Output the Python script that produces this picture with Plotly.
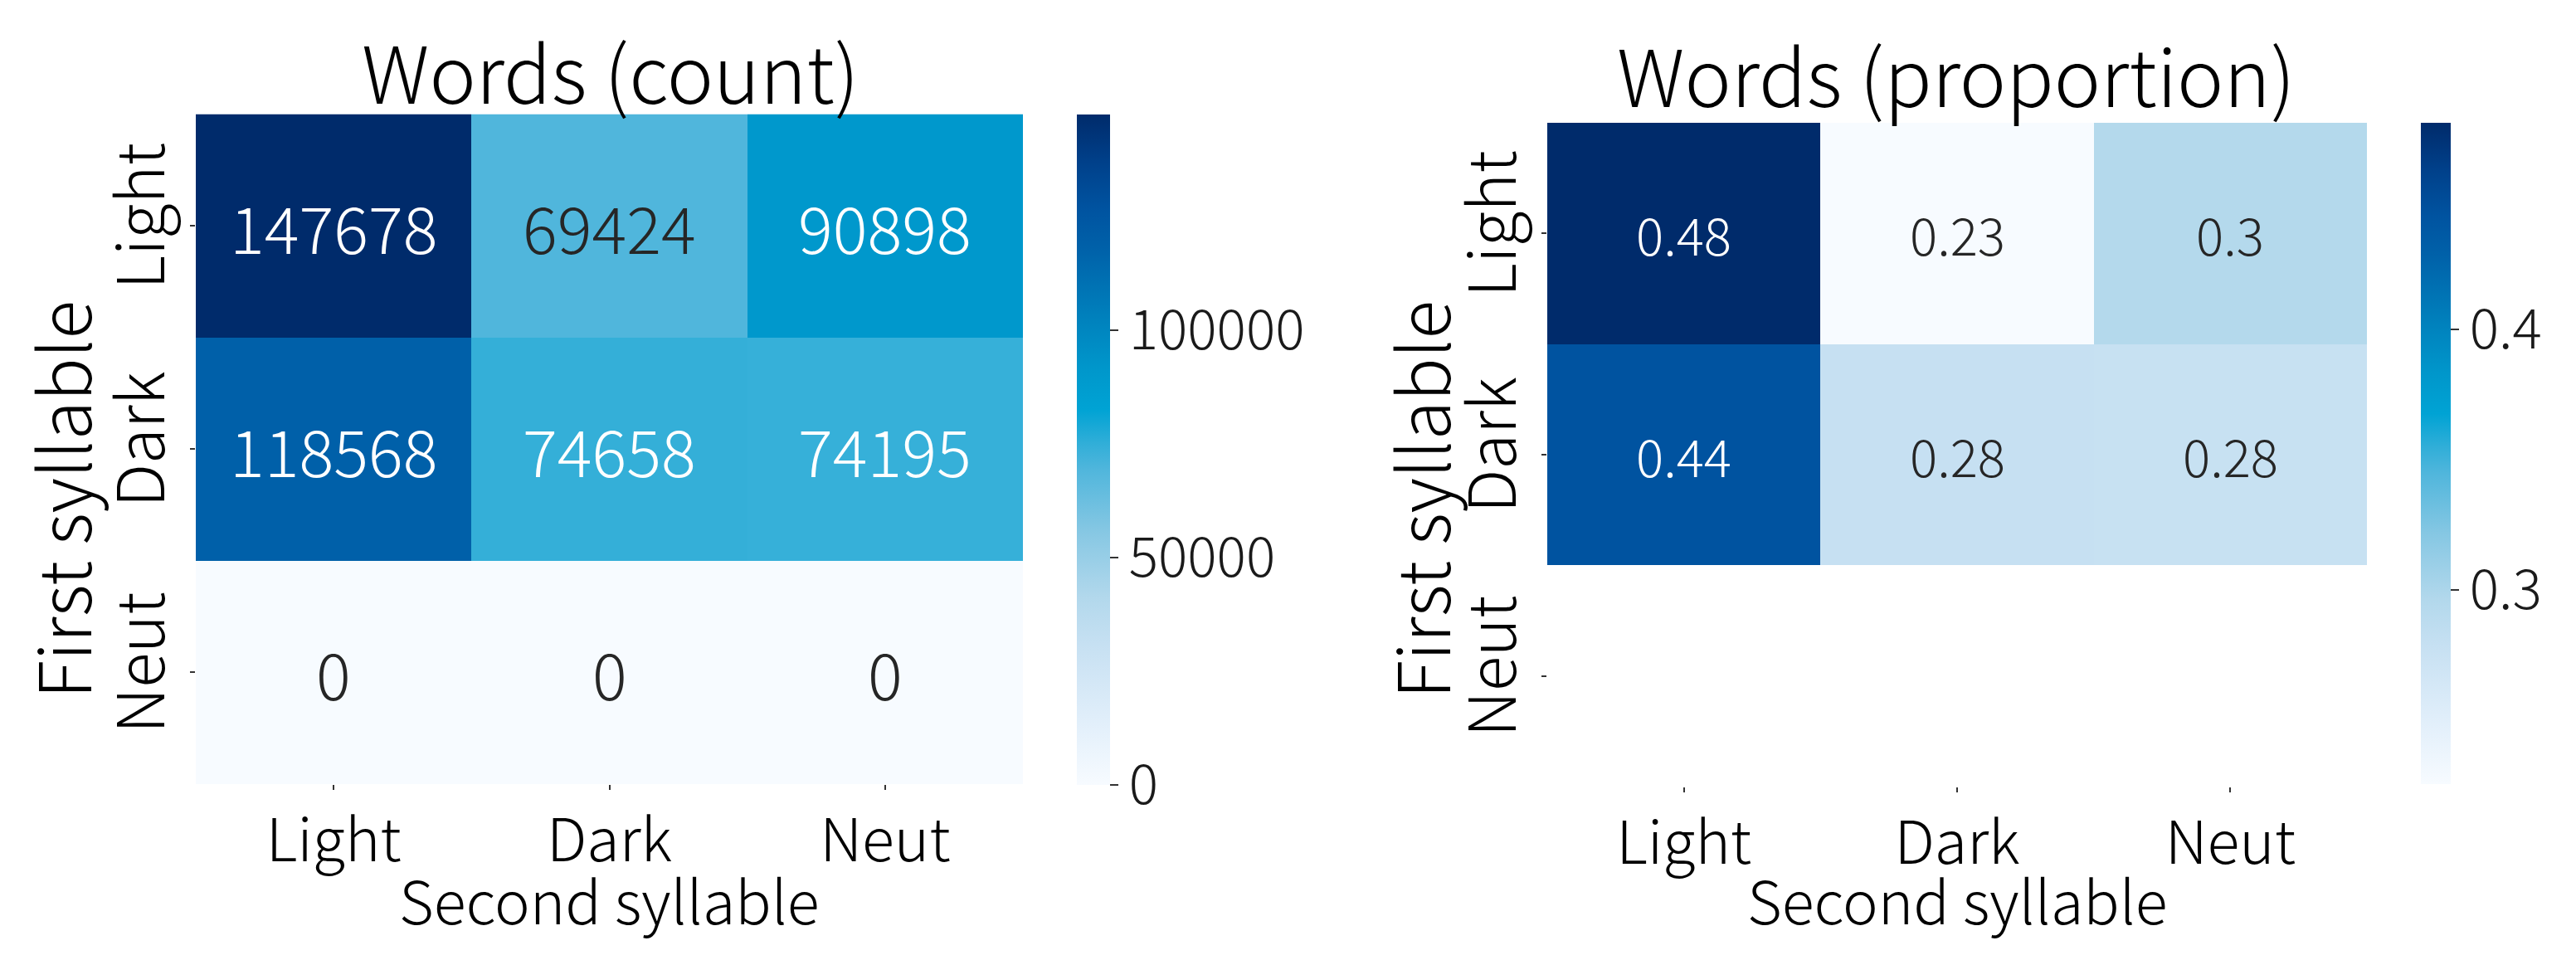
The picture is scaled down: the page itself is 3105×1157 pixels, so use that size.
import plotly.graph_objects as go

# ---- data ----
second_syllable = ["Light", "Dark", "Neut"]
first_syllable = ["Light", "Dark", "Neut"]

count_light = [147678, 69424, 90898]
count_dark = [118568, 74658, 74195]
count_neut = [0, 0, 0]

prop_light = [0.4795, 0.2254, 0.2951]
prop_dark = [0.4434, 0.2792, 0.2774]
prop_neut = [None, None, None]

count_ticks = [0, 50000, 100000]
count_tick_labels = ["0", "50000", "100000"]
prop_ticks = [0.3, 0.4]
prop_tick_labels = ["0.3", "0.4"]

# ---- style ----
W, H = 3105, 1157
FONT = "Noto Sans CJK KR"
WEIGHT = 300
colorscale = [
    [0.00, "#f7fbff"], [0.10, "#e0eefa"], [0.21, "#c6e0f2"], [0.28, "#b2d8ec"],
    [0.38, "#85c7e3"], [0.47, "#50b6dc"], [0.51, "#30aed8"], [0.56, "#00a3d4"],
    [0.62, "#0097cb"], [0.70, "#0080bc"], [0.80, "#0061a9"], [0.86, "#0053a0"],
    [0.93, "#00408a"], [1.00, "#002b6b"],
]


def px_x(p):
    return p / W


def px_y(p):
    return 1 - p / H


def fnt(size, color="#000000"):
    return dict(family=FONT, size=size, color=color, weight=WEIGHT)


count_z = [count_light, count_dark, count_neut]
prop_z = [prop_light, prop_dark, prop_neut]

fig = go.Figure()

fig.add_trace(go.Heatmap(
    z=count_z, x=second_syllable, y=first_syllable,
    colorscale=colorscale, zmin=0, zmax=max(max(r) for r in count_z),
    xaxis="x", yaxis="y", xgap=0, ygap=0, hoverinfo="skip",
    colorbar=dict(
        x=px_x(1290), xanchor="left", xpad=0, ypad=0,
        y=px_y(129.5), yanchor="top", lenmode="pixels", len=807.5,
        thickness=40, outlinewidth=0,
        tickvals=count_ticks, ticktext=count_tick_labels,
        ticks="outside", ticklen=10, tickwidth=2, tickcolor="#333333",
        tickfont=fnt(66, "#1a1a1a"),
    ),
))

prop_vals = [v for r in prop_z for v in r if v is not None]
fig.add_trace(go.Heatmap(
    z=prop_z, x=second_syllable, y=first_syllable,
    colorscale=colorscale, zmin=min(prop_vals), zmax=max(prop_vals),
    xaxis="x2", yaxis="y2", hoverinfo="skip",
    colorbar=dict(
        x=px_x(2910), xanchor="left", xpad=0, ypad=0,
        y=px_y(140), yanchor="top", lenmode="pixels", len=797,
        thickness=36, outlinewidth=0,
        tickvals=prop_ticks, ticktext=prop_tick_labels,
        ticks="outside", ticklen=10, tickwidth=2, tickcolor="#333333",
        tickfont=fnt(66, "#1a1a1a"),
    ),
))

annotations = []
# cell labels
cmax = max(max(r) for r in count_z)
for i, row in enumerate(count_z):
    for j, v in enumerate(row):
        norm = v / cmax
        annotations.append(dict(
            x=second_syllable[j], y=first_syllable[i], xref="x", yref="y",
            text=f"{v:d}", showarrow=False,
            font=fnt(78, "#ffffff" if norm >= 0.5 else "#262626"),
        ))
pmin, pmax = min(prop_vals), max(prop_vals)
for i, row in enumerate(prop_z):
    for j, v in enumerate(row):
        if v is None:
            continue
        norm = (v - pmin) / (pmax - pmin)
        annotations.append(dict(
            x=second_syllable[j], y=first_syllable[i], xref="x2", yref="y2",
            text=f"{v:.2g}", showarrow=False,
            font=fnt(62, "#ffffff" if norm >= 0.5 else "#262626"),
        ))

# titles
annotations += [
    dict(text="Words (count)", x=px_x(728), y=px_y(75), xref="paper", yref="paper",
         xanchor="center", yanchor="middle", showarrow=False, font=fnt(95)),
    dict(text="Words (proportion)", x=px_x(2350), y=px_y(80), xref="paper", yref="paper",
         xanchor="center", yanchor="middle", showarrow=False, font=fnt(95)),
    dict(text="Second syllable", x=px_x(726), y=px_y(1074), xref="paper", yref="paper",
         xanchor="center", yanchor="middle", showarrow=False, font=fnt(72)),
    dict(text="Second syllable", x=px_x(2351), y=px_y(1074), xref="paper", yref="paper",
         xanchor="center", yanchor="middle", showarrow=False, font=fnt(72)),
    dict(text="First syllable", x=px_x(64), y=px_y(594), xref="paper", yref="paper",
         xanchor="center", yanchor="middle", showarrow=False, textangle=-90,
         font=fnt(86)),
    dict(text="First syllable", x=px_x(1702), y=px_y(594), xref="paper", yref="paper",
         xanchor="center", yanchor="middle", showarrow=False, textangle=-90,
         font=fnt(86)),
]

axis_common = dict(
    showgrid=False, zeroline=False, showline=False,
    ticks="outside", ticklen=6, tickwidth=2, tickcolor="#333333",
)

fig.update_layout(
    width=W, height=H,
    margin=dict(l=0, r=0, t=0, b=0),
    paper_bgcolor="white", plot_bgcolor="white",
    showlegend=False,
    xaxis=dict(domain=[px_x(228), px_x(1225)], anchor="y", tickfont=fnt(72), **axis_common),
    yaxis=dict(domain=[px_y(937), px_y(129.5)], anchor="x", autorange="reversed",
               tickangle=-90, tickfont=fnt(78), **axis_common),
    xaxis2=dict(domain=[px_x(1857), px_x(2845)], anchor="y2", tickfont=fnt(72), **axis_common),
    yaxis2=dict(domain=[px_y(940), px_y(140)], anchor="x2", autorange="reversed",
                tickangle=-90, tickfont=fnt(78), **axis_common),
    annotations=annotations,
)

fig.write_html("out.html")
